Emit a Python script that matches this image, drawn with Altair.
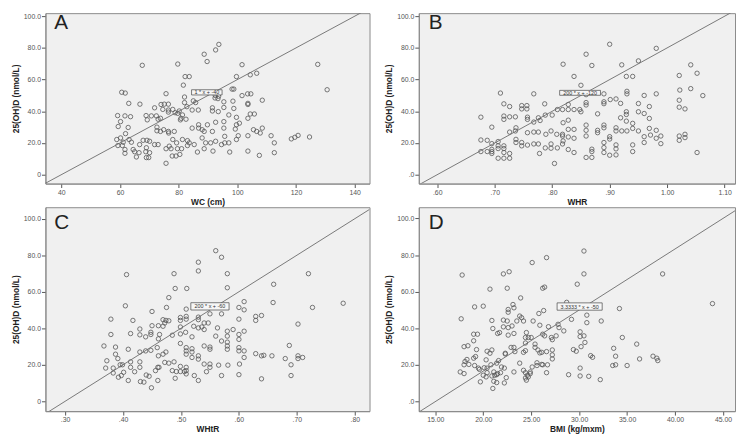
import altair as alt
import pandas as pd

# ---------------- data ----------------
A_PTS = [
    (67.6, 69), (79.7, 69.8), (88.7, 76), (92.6, 78.7), (93.7, 82.2), (89.7, 71.4), (101.6, 69.4), (127.4, 69.6),
    (130.6, 53.6), (82.2, 61.9), (83.6, 61.9), (99.7, 61.9), (104.4, 63), (106.6, 64), (81.6, 56.5),
    (60.6, 52), (61.8, 51.5), (75.7, 51.1), (82, 49), (98.2, 54), (98.8, 54), (101.6, 49.9), (103.5, 51),
    (104.6, 51), (108.5, 47), (92.5, 50), (93.6, 49.5),
    (63, 45), (66.8, 44.5), (71.8, 42.2), (74, 44.3), (75.1, 44.5), (76.5, 44.5), (82, 45.5), (85, 46.6),
    (85.8, 45.5), (92.4, 48.4), (93.4, 48), (95.4, 46), (98.5, 46.4), (103.6, 45), (103.6, 44.3),
    (59.2, 37.3), (61.7, 37.1), (63.6, 36.6), (68.9, 37.3), (70.7, 37.1), (72.4, 37.1), (73.8, 35.6), (73, 35),
    (69.3, 34.6), (74.6, 41.2), (76.5, 40.8), (78, 41.2), (76.5, 39.5), (78.8, 39.1), (79.7, 38.7), (80.2, 40.2),
    (81.3, 37.7), (80.8, 35.6), (82.5, 35), (80.6, 34.6), (82.8, 42.9), (84.6, 40.8), (86.7, 40.8), (91.5, 40.2),
    (91.5, 42.2), (93.5, 39.8), (95.4, 42.4), (97.1, 37.7), (98.8, 41.8), (99.7, 36.2), (103.6, 35.6),
    (104.4, 38.3), (105.8, 38.3),
    (60.2, 33.5), (59.4, 30.4), (62.8, 29.8), (72.6, 30), (72.6, 27.7), (73.8, 27.3), (74.9, 28.4), (76.5, 27.3),
    (76.6, 26.3), (78.5, 27.3), (84.6, 29.4), (86.8, 31.5), (86.8, 29.4), (88, 28.4), (88.7, 27.3), (89.8, 31.5),
    (91.5, 27.3), (92.6, 33.1), (95.4, 33.5), (95.4, 29.4), (99.3, 28.8), (99.7, 31.5), (100.7, 32.5),
    (105.5, 28.4), (106.6, 27.3), (107.8, 26.3), (108.5, 29.4),
    (58.9, 22.2), (60.2, 23.2), (61.1, 20.5), (61.9, 25.9), (63.1, 22.2), (63.9, 20.5), (59.3, 18.4), (60.8, 18.4),
    (66.7, 19), (67.9, 21.7), (69.2, 21.7), (70.1, 21.1), (71.8, 19), (73, 19), (78, 22.2), (79.3, 20.1),
    (81.3, 22.2), (83, 21.5), (83.6, 20.1), (85.3, 19), (88, 23.2), (89.2, 20.1), (90.9, 20.1), (92.6, 21.1),
    (94.6, 19), (95.7, 20.1), (95.7, 24.2), (97.1, 20.1), (99.7, 22.2), (100.3, 24.6), (103.6, 24.6),
    (111.5, 24.6), (112.6, 20.1), (118.4, 22.6), (119.6, 23.6), (120.7, 24.8), (124.6, 23.8),
    (61.7, 15.9), (61.7, 13.5), (64.5, 15.9), (65, 14.5), (66.5, 13.9), (65.6, 11.2), (69, 17), (69, 10.8),
    (69.8, 10.8), (68.8, 14.5), (70.1, 13.9), (75.7, 16.4), (76.8, 18), (77.4, 16.4), (77.8, 11.8), (79.1, 11.8),
    (80.4, 12.8), (79.6, 16.4), (81, 16.4), (83, 18.4), (86.4, 14.3), (88.7, 16.4), (91.7, 14.9), (97.4, 14.3),
    (103.6, 14.9), (107.5, 12.2), (112.6, 13.9), (75.7, 7.2),
]

B_PTS = [
    (.900, 82.3), (.859, 76), (.981, 79.7), (.950, 71.8), (.819, 69.7), (.869, 68.9), (.921, 69.3), (1.041, 69.3),
    (.838, 62), (.929, 62), (.940, 62), (1.021, 62.6), (1.052, 64), (.850, 56.4), (1.022, 53.4), (1.041, 54.3),
    (1.062, 49.9), (.71, 51.5), (.768, 51), (.89, 51), (.93, 52.6), (.93, 51), (.96, 50), (.981, 51),
    (1.021, 47), (.859, 50.5),
    (.716, 44.7), (.726, 43), (.747, 43.6), (.756, 43.6), (.747, 41.5), (.756, 41.5), (.787, 44.7), (.828, 44.3),
    (.859, 45.5), (.859, 44), (.89, 46), (.89, 44.8), (.901, 47.4), (.911, 47.8), (.919, 45), (.95, 44.9),
    (.969, 43), (1.021, 42.6), (1.031, 41.5),
    (.676, 36.3), (.716, 37), (.716, 34.9), (.726, 36.5), (.736, 36.5), (.757, 36.3), (.757, 34.9), (.768, 33.2),
    (.776, 35.9), (.779, 34.2), (.788, 37.6), (.8, 37.6), (.809, 41.1), (.818, 41.1), (.828, 41.1), (.838, 41.1),
    (.848, 41.1), (.85, 39.7), (.819, 32.8), (.828, 34.4), (.879, 38.4), (.919, 35.9), (.929, 39.7), (.929, 38),
    (.95, 39.7), (.96, 38.6), (.929, 33.8), (.94, 32.4), (.969, 35.5),
    (.695, 30), (.737, 29.6), (.726, 26.9), (.736, 27.6), (.757, 26.5), (.768, 26.9), (.776, 26.9), (.789, 25.5),
    (.798, 27.6), (.808, 25.5), (.818, 25.5), (.818, 24.4), (.828, 28.6), (.838, 28.6), (.828, 23.8), (.838, 23),
    (.859, 31.3), (.859, 28), (.859, 24.4), (.879, 28), (.879, 26.5), (.89, 31.3), (.89, 29.6), (.9, 24),
    (.9, 22.5), (.911, 27.6), (.911, 29.6), (.921, 27.6), (.93, 27.6), (.94, 29.2), (.95, 27.6), (.96, 24),
    (.969, 29.2), (.971, 25), (.981, 28), (.981, 23), (.989, 24.4), (1.021, 24.4), (1.021, 21.7), (1.031, 25.5),
    (1.031, 23.4),
    (.676, 21.9), (.687, 21.7), (.695, 19.6), (.706, 20.9), (.695, 16), (.695, 14.6), (.695, 13.4), (.706, 18.2),
    (.706, 16.5), (.716, 18.2), (.716, 16.5), (.716, 14), (.726, 13.4), (.737, 22.3), (.737, 20.3), (.747, 20.3),
    (.747, 18.2), (.757, 18.7), (.768, 19.4), (.776, 19.4), (.788, 16.9), (.798, 19.4), (.809, 16.9), (.818, 19.4),
    (.778, 13.4), (.798, 16.7), (.819, 21.3), (.828, 15.9), (.838, 14), (.859, 10.9), (.869, 10.9), (.869, 16.1),
    (.869, 14.6), (.89, 20.3), (.89, 17.1), (.89, 14), (.9, 12.3), (.911, 12.5), (.911, 18.8), (.911, 16.3),
    (.94, 14.6), (.94, 18.8), (.96, 20.3), (.989, 19.6), (1.052, 14), (.706, 10.4), (.716, 10.4), (.726, 10.4),
    (.804, 7.1), (.676, 14.6), (.687, 14.6),
]

C_PTS = [
    (.56, 82.5), (.57, 78.9), (.53, 76.2), (.53, 71.4), (.406, 69.4), (.488, 69.9), (.58, 69.9), (.72, 69.9),
    (.58, 62.2), (.49, 61.8), (.51, 61.8), (.66, 64.1), (.479, 56.8), (.404, 52.3), (.475, 51.4), (.509, 50.5),
    (.609, 54.6), (.659, 54.1), (.727, 51.4), (.78, 53.7), (.6, 51.4), (.609, 50.1), (.57, 47.9), (.55, 47.9),
    (.629, 46.5), (.639, 47), (.629, 44.3), (.6, 45), (.702, 42.3), (.379, 45), (.417, 44.3), (.45, 49.2),
    (.469, 44.7), (.474, 44.3), (.479, 44.1), (.499, 45.9), (.499, 44.3), (.509, 46.5), (.509, 45), (.53, 46.1),
    (.53, 44.7), (.54, 42.9), (.547, 42.9),
    (.379, 36.6), (.413, 37.1), (.429, 39.6), (.429, 36.4), (.439, 35.3), (.448, 36.6), (.45, 41.4), (.461, 41.4),
    (.469, 41.1), (.472, 42.9), (.448, 37.8), (.463, 36.6), (.485, 36.2), (.499, 40.7), (.499, 36.9), (.508, 37.8),
    (.519, 35.3), (.522, 41.1), (.53, 40.2), (.536, 40.7), (.54, 39.3), (.563, 40.2), (.58, 38.4), (.59, 39.3),
    (.58, 35.7), (.6, 36.6), (.6, 33.9), (.609, 38.4), (.56, 35.7), (.57, 33), (.499, 31.7), (.461, 34.2),
    (.367, 30.3), (.387, 29.7), (.409, 28.5), (.429, 27), (.439, 27.6), (.448, 27.9), (.459, 29.4), (.461, 24.9),
    (.469, 25.8), (.474, 27), (.509, 29.4), (.509, 27.6), (.509, 25.8), (.519, 28.8), (.519, 27), (.519, 24),
    (.53, 24.9), (.53, 23.1), (.54, 30.3), (.55, 29.7), (.55, 28.5), (.58, 32.4), (.58, 30.3), (.58, 28.5),
    (.6, 29.4), (.6, 27.6), (.609, 27.6), (.609, 24), (.629, 26.1), (.639, 24.9), (.643, 25.2), (.657, 24.9),
    (.687, 30.6), (.68, 23.4), (.702, 23.4), (.702, 24.9), (.71, 24), (.387, 25.8), (.391, 23.4), (.372, 22.2),
    (.37, 18.2), (.383, 18.2), (.383, 15.5), (.395, 20), (.399, 20), (.392, 13.2), (.397, 14.1), (.401, 15.9),
    (.409, 11.4), (.413, 21.6), (.413, 18.6), (.42, 16.2), (.429, 21.6), (.429, 18.6), (.43, 10.8), (.436, 10.5),
    (.44, 14.4), (.445, 13.7), (.449, 7.4), (.456, 16.8), (.46, 18.6), (.462, 18.6), (.46, 11.4), (.472, 21.3),
    (.479, 20.9), (.488, 21.6), (.485, 16.8), (.492, 16.3), (.499, 16.3), (.506, 16.3), (.49, 12.6), (.499, 19.1),
    (.509, 18.6), (.509, 16.8), (.509, 15), (.523, 14.1), (.53, 11.4), (.54, 20.4), (.544, 16.2), (.55, 20.4),
    (.55, 18.6), (.565, 19.8), (.581, 19.8), (.57, 14.1), (.601, 20.4), (.6, 14.6), (.639, 12.3), (.69, 20),
    (.69, 14.1),
]

D_PTS = [
    (30.5, 82.2), (26.6, 78.6), (25.1, 75.9), (17.8, 69.1), (22.1, 69.7), (22.7, 70.9), (30.5, 69.7), (38.7, 69.7),
    (29.8, 64.1), (20.7, 61.4), (22.5, 61.9), (26.2, 61.9), (26.4, 62.5), (23.9, 56.6), (28.7, 54.2), (43.9, 53.5),
    (23.1, 53), (19.1, 51.7), (20, 52.1), (22.6, 50.3), (23.2, 51.2), (22.6, 48.8), (25.8, 48.1), (26.3, 49.7),
    (34.2, 50.8), (30.8, 47.2), (17.7, 45.2), (20.9, 44.3), (22.1, 44.5), (22.5, 44), (23.8, 46.7), (24, 45.8),
    (24.2, 44), (23.5, 44), (25.2, 44), (25.9, 41.7), (26.8, 40.9), (27.8, 42.2), (27.9, 40.4), (28.4, 38.6),
    (29.2, 44.9), (30.8, 43.1), (32.3, 44), (21, 39.9), (22.1, 40.8), (22.6, 40.4), (23, 41.3), (21.5, 37.2),
    (21.7, 37.7), (22.6, 36.3), (23.2, 37.2), (24.5, 37.7), (24.4, 35), (24.7, 35), (25, 35), (24.4, 32),
    (25.4, 31.4), (26.2, 36.8), (26.4, 35.9), (27.1, 35), (27.2, 33.8), (27.6, 35.9), (30.1, 38.1), (30.1, 35.5),
    (30.5, 35.9), (30.6, 32.3), (30.2, 30), (34.5, 35), (19, 36.8), (19.4, 36.8), (19, 33.2), (18, 30),
    (18.4, 30.5), (19.3, 28.4), (20.4, 27.5), (20.7, 26.4), (20.9, 28.2), (22.3, 26.4), (22.9, 29.6), (23.2, 29.6),
    (23.3, 27.3), (24.2, 26.9), (24.4, 27.8), (25.4, 29.6), (25.7, 28.2), (25.9, 26.6), (26.1, 26.9), (26.6, 27.3),
    (27.2, 28.2), (27.2, 25.5), (27.2, 23.3), (29.4, 28.4), (29.7, 27.5), (31.2, 25.1), (31.4, 24.2), (33.6, 29.1),
    (33.8, 24.8), (36, 31.4), (36.3, 23.3), (37.7, 24.8), (38.1, 23.7), (38.2, 22.4), (33.5, 19.7), (33.8, 20.1),
    (35, 19.7), (17.6, 16.2), (18, 15.3), (18.1, 21.9), (18, 20.1), (18.5, 20.3), (18.3, 23), (19, 23.7),
    (19.2, 24.6), (19.5, 18.3), (19.6, 17.6), (19.1, 19.7), (20.1, 18.5), (20.4, 18.3), (20.3, 22.8), (20.8, 20.1),
    (21.4, 21), (21.6, 22.4), (21.9, 18.9), (22.2, 18.3), (22.3, 26), (21.1, 16.2), (21.5, 15.3), (21.8, 15.8),
    (21.2, 14.4), (21.4, 14.7), (20.9, 14), (20.4, 15.8), (20, 14.4), (20.3, 13.5), (19.7, 10.8), (21.1, 11.1),
    (21.4, 10.4), (22.2, 10.2), (21, 7.2), (22.4, 13.1), (23.2, 16.2), (23.8, 21), (24.2, 17.1), (24.4, 15.8),
    (24.6, 14.4), (24.9, 16.2), (24.9, 15.3), (24.4, 12.9), (24.5, 11.7), (24.7, 13.5), (25.1, 18.9), (25.6, 19.7),
    (26.1, 20.3), (26.2, 20.1), (25.6, 21.2), (26.7, 20.1), (26.6, 15.8), (28.9, 14.7), (30.1, 14), (30.1, 18.3),
    (31, 13.8), (32.2, 12),
]

Y_TITLE = "25(OH)D (nmol/L)"
X_TITLES = ["WC (cm)", "WHR", "WHtR", "BMI (kg/mxm)"]
LETTERS = ["A", "B", "C", "D"]

Y_TICKS = [0, 20, 40, 60, 80, 100]
Y_LABELS_A = ["0", "20.0", "40.0", "60.0", "80.0", "100.0"]
Y_LABELS = [".0", "20.0", "40.0", "60.0", "80.0", "100.0"]

A_XTICKS = [40, 60, 80, 100, 120, 140]
A_XLABELS = ["40", "60", "80", "100", "120", "140"]
B_XTICKS = [0.6, 0.7, 0.8, 0.9, 1.0, 1.1]
B_XLABELS = [".60", ".70", ".80", ".90", "1.00", "1.10"]
C_XTICKS = [0.3, 0.4, 0.5, 0.6, 0.7, 0.8]
C_XLABELS = [".30", ".40", ".50", ".60", ".70", ".80"]
D_XTICKS = [15, 20, 25, 30, 35, 40, 45]
D_XLABELS = ["15.00", "20.00", "25.00", "30.00", "35.00", "40.00", "45.00"]

# reference lines (slope, intercept) and their label boxes (x1, x2, y1, y2)
LINES = [(1.0, -40.0), (200.0, -120.0), (200.0, -60.0), (3.3333, -50.0)]
LINE_TEXT = ["1 * x + -40", "200 * x + -120", "200 * x + -60", "3.3333 * x + -50"]
BOXES = [(84.4, 94.8, 50.3, 53.6), (0.813, 0.884, 50.1, 53.2), (0.517, 0.583, 50.0, 54.0), (27.7, 32.4, 49.9, 53.9)]

FONT = "Liberation Sans"


def label_expr(vals, labels):
    expr = "''"
    for v, l in reversed(list(zip(vals, labels))):
        expr = f"abs(datum.value - ({v})) < 1e-6 ? '{l}' : {expr}"
    return expr


def panel(pts, xdom, ydom, xticks, xlabels, ylabels, xtitle, letter, line, ltext, box, w, h, lx, ly):
    df = pd.DataFrame(pts, columns=["x", "y"])
    xs = alt.Scale(domain=xdom, nice=False, zero=False)
    ys = alt.Scale(domain=ydom, nice=False, zero=False)
    xax = alt.Axis(values=xticks, labelExpr=label_expr(xticks, xlabels), title=xtitle, titlePadding=2)
    yax = alt.Axis(values=Y_TICKS, labelExpr=label_expr(Y_TICKS, ylabels), title=Y_TITLE, titlePadding=3)

    def X(f):
        return alt.X(f, type="quantitative", scale=xs, axis=xax)

    def Y(f):
        return alt.Y(f, type="quantitative", scale=ys, axis=yax)

    points = alt.Chart(df).mark_point(
        shape="circle", filled=False, size=20, strokeWidth=0.8, color="#555555", opacity=1
    ).encode(x=X("x"), y=Y("y"))

    slope, intercept = line
    line_df = pd.DataFrame({"x": list(xdom), "y": [slope * v + intercept for v in xdom]})
    ref = alt.Chart(line_df).mark_line(clip=True, color="#6a6a6a", strokeWidth=0.9).encode(x=X("x"), y=Y("y"))

    box_df = pd.DataFrame({"x1": [box[0]], "x2": [box[1]], "y1": [box[2]], "y2": [box[3]], "t": [ltext]})
    rect = alt.Chart(box_df).mark_rect(fill="#f6f6f6", stroke="#444444", strokeWidth=0.7).encode(
        x=X("x1"), x2="x2", y=Y("y1"), y2="y2"
    )
    txt = alt.Chart(box_df).transform_calculate(
        xm="(datum.x1 + datum.x2) / 2", ym="(datum.y1 + datum.y2) / 2"
    ).mark_text(fontSize=5.5, color="#333333", font=FONT, baseline="middle").encode(
        x=X("xm"), y=Y("ym"), text="t:N"
    )
    let = alt.Chart(pd.DataFrame({"t": [letter]})).mark_text(
        align="left", baseline="alphabetic", fontSize=21, font=FONT, color="#222222"
    ).encode(text="t:N", x=alt.value(lx), y=alt.value(ly))

    return alt.layer(points, ref, rect, txt, let).properties(width=w, height=h)


pa = panel(A_PTS, [34.6, 145.05], [-5.6, 101.9], A_XTICKS, A_XLABELS, Y_LABELS_A, X_TITLES[0], LETTERS[0],
           LINES[0], LINE_TEXT[0], BOXES[0], 329, 173, 9, 16)
pb = panel(B_PTS, [0.568, 1.118], [-5.6, 101.9], B_XTICKS, B_XLABELS, Y_LABELS, X_TITLES[1], LETTERS[1],
           LINES[1], LINE_TEXT[1], BOXES[1], 321, 173, 10, 16)
pc = panel(C_PTS, [0.266, 0.8255], [-5.4, 106.3], C_XTICKS, C_XLABELS, Y_LABELS_A, X_TITLES[2], LETTERS[2],
           LINES[2], LINE_TEXT[2], BOXES[2], 329, 207, 9, 22)
pd_ = panel(D_PTS, [13.28, 46.25], [-5.2, 106.1], D_XTICKS, D_XLABELS, Y_LABELS, X_TITLES[3], LETTERS[3],
            LINES[3], LINE_TEXT[3], BOXES[3], 321, 207, 10, 22)

chart = alt.concat(
    pa, pb, pc, pd_, columns=2, spacing={"row": 24, "column": 50}, bounds="flush"
).properties(
    padding={"left": 2, "top": 0, "right": 0, "bottom": 0}
).configure_view(
    fill="#f0f0f0", stroke="#8a8a8a", strokeWidth=1
).configure_axis(
    labelFont=FONT, labelFontSize=7, labelColor="#555555", labelPadding=1,
    titleFont=FONT, titleFontSize=8.5, titleFontWeight="bold", titleColor="#222222",
    tickColor="#555555", tickSize=4, domainColor="#8a8a8a", grid=False
)

chart.save("out.html", embed_options={"renderer": "svg", "actions": False})
